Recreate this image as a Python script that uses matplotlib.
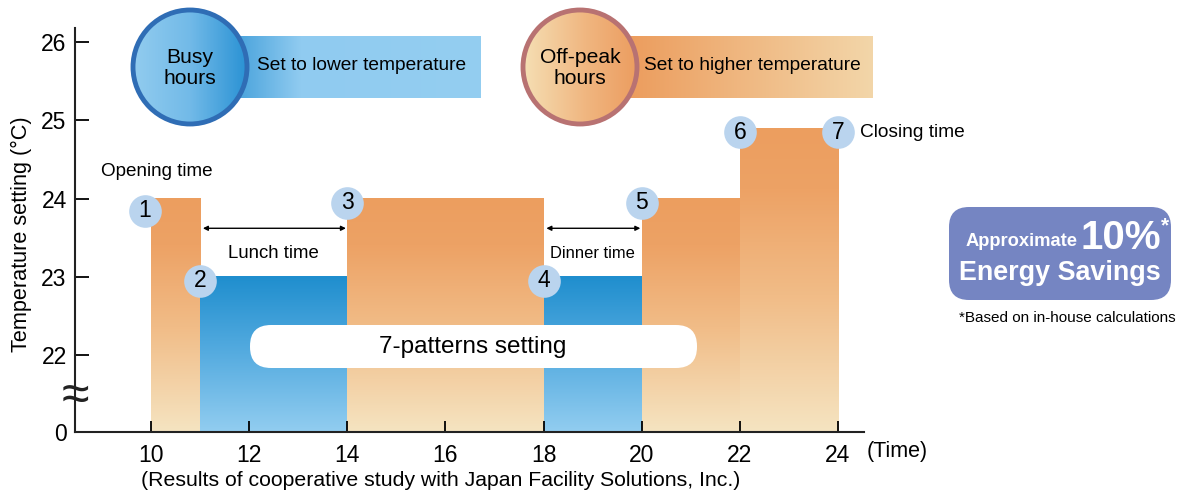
import matplotlib.pyplot as plt
import matplotlib.transforms as mtransforms
import numpy as np
from matplotlib.colors import LinearSegmentedColormap
from matplotlib.patches import Circle, FancyBboxPatch

plt.rcParams['font.family'] = ['Liberation Sans', 'DejaVu Sans']

# chart data
start_hours = [10, 11, 14, 18, 20, 22]
end_hours = [11, 14, 18, 20, 22, 24]
temps = [24, 23, 24, 23, 24, 24.9]
busy = [False, True, False, True, False, False]
marker_labels = ['1', '2', '3', '4', '5', '6', '7']
x_ticks = [10, 12, 14, 16, 18, 20, 22, 24]
y_ticks = [22, 23, 24, 25, 26]
y_floor = 21.016   # bottom of the broken axis, labelled "0"
arrow_level = 23.62
text_level = 23.30

W, H = 1187, 496
fig = plt.figure(figsize=(W / 100, H / 100), dpi=100)
ax = fig.add_axes([75 / W, 1 - 432 / H, (864 - 75) / W, (432 - 28) / H])

orange_cmap = LinearSegmentedColormap.from_list(
    'orange', [(0, '#F5E4C1'), (0.45, '#F1BC87'), (0.8, '#EDA265'), (1, '#EC9E5F')])
blue_cmap = LinearSegmentedColormap.from_list(
    'blue', [(0, '#92CDF0'), (0.5, '#56ACE0'), (1, '#1F8ECE')])
vgrad = np.linspace(0, 1, 256).reshape(-1, 1)

# bars with vertical gradients
for x0, x1, t, b in zip(start_hours, end_hours, temps, busy):
    ax.imshow(vgrad, cmap=blue_cmap if b else orange_cmap, origin='lower',
              extent=(x0, x1, y_floor, t), aspect='auto', zorder=0.5)

# numbered markers at the bar corners
marker_x = start_hours + [end_hours[-1]]
marker_y = temps + [temps[-1]]
offsets = {0: (-6, -12)}
for i, (mx, my, lab) in enumerate(zip(marker_x, marker_y, marker_labels)):
    dx, dy = offsets.get(i, (0, -4))
    tr = mtransforms.offset_copy(ax.transData, fig=fig, x=dx, y=dy, units='dots')
    ax.plot(mx, my, 'o', ms=23.5, mfc='#BAD4EE', mec='none', transform=tr,
            zorder=5, clip_on=False)
    ax.text(mx, my, lab, transform=tr, ha='center', va='center',
            fontsize=16.5, zorder=6)

# lunch / dinner arrows
for a, b2, lab, fs in [(end_hours[0], start_hours[2], 'Lunch time', 13.4),
                       (start_hours[3], end_hours[3], 'Dinner time', 11.9)]:
    ax.annotate('', xy=(b2, arrow_level), xytext=(a, arrow_level),
                arrowprops=dict(arrowstyle='<|-|>', mutation_scale=7, lw=1,
                                color='black', shrinkA=2, shrinkB=1))
    ax.text((a + b2) / 2, text_level, lab, ha='center', va='center', fontsize=fs)

ax.text(start_hours[0] + 0.12, 24.35, 'Opening time', ha='center', va='center', fontsize=13.6)
ax.text(end_hours[-1] + 0.45, temps[-1] - 0.05, 'Closing time', ha='left', va='center', fontsize=13.8)

ax.set_xlim(8.45, 24.53)
ax.set_ylim(y_floor, 26.18)
ax.set_xticks(x_ticks)
ax.set_xticklabels([str(t) for t in x_ticks])
ax.set_yticks([y_floor] + y_ticks)
ax.set_yticklabels(['0'] + [str(t) for t in y_ticks])
ax.tick_params(axis='x', direction='in', length=8, width=1.3, labelsize=16.5, pad=9)
ax.tick_params(axis='y', direction='in', length=10, width=1.3, labelsize=16.5, pad=6)
for s in ['top', 'right']:
    ax.spines[s].set_visible(False)
for s in ['left', 'bottom']:
    ax.spines[s].set_linewidth(1.5)
    ax.spines[s].set_color('#222222')
ax.set_ylabel('Temperature setting (°C)', fontsize=15.6)
ax.yaxis.set_label_coords(-0.054, 0.49)

# overlay in pixel coordinates for the legend and notes
ov = fig.add_axes([0, 0, 1, 1])
hgrad = np.linspace(0, 1, 256).reshape(1, -1)


def grad_rect(x0, x1, y0, y1, stops, z=2, clip=None):
    cm = LinearSegmentedColormap.from_list('g', stops)
    im = ov.imshow(hgrad, cmap=cm, extent=(x0, x1, y1, y0), aspect='auto', zorder=z)
    if clip is not None:
        im.set_clip_path(clip)
    return im


# busy hours
grad_rect(240, 481, 36, 98, [(0, '#4DA5DD'), (0.25, '#90CBF0'), (1, '#94CEF1')])
c1 = Circle((190, 67), 57, fc='none', ec='#2F6DB5', lw=3.5, zorder=4)
ov.add_patch(c1)
grad_rect(133, 247, 10, 124, [(0, '#92CCEF'), (0.5, '#72BAE8'), (1, '#2A92D4')], z=3, clip=c1)
ov.text(190, 68, 'Busy\nhours', ha='center', va='center', fontsize=15.2, linespacing=1.1, zorder=5)
ov.text(362, 65, 'Set to lower temperature', ha='center', va='center', fontsize=13.8, zorder=5)

# off-peak hours
grad_rect(630, 873, 36, 98, [(0, '#EC9D5E'), (1, '#F3D6A9')])
c2 = Circle((580, 67), 57, fc='none', ec='#B87272', lw=3.5, zorder=4)
ov.add_patch(c2)
grad_rect(523, 637, 10, 124, [(0, '#F5DFB4'), (0.55, '#F0B680'), (1, '#EC9D60')], z=3, clip=c2)
ov.text(580, 68, 'Off-peak\nhours', ha='center', va='center', fontsize=15.2, linespacing=1.1, zorder=5)
ov.text(752, 65, 'Set to higher temperature', ha='center', va='center', fontsize=13.8, zorder=5)

# 7-patterns banner
ov.add_patch(FancyBboxPatch((250, 325), 447, 43, boxstyle='round,pad=0,rounding_size=21',
                            fc='white', ec='none', zorder=3))
ov.text(473, 347, '7-patterns setting', ha='center', va='center', fontsize=17.5, zorder=4)

# energy savings box
ov.add_patch(FancyBboxPatch((949, 207), 222, 93, boxstyle='round,pad=0,rounding_size=20',
                            fc='#7585C2', ec='none', zorder=3))
ov.text(1022, 241, 'Approximate', ha='center', va='center', fontsize=13.2,
        fontweight='bold', color='white', zorder=4)
ov.text(1121, 238, '10%', ha='center', va='center', fontsize=29,
        fontweight='bold', color='white', zorder=4)
ov.text(1165, 226, '*', ha='center', va='center', fontsize=15,
        fontweight='bold', color='white', zorder=4)
ov.text(1060, 273, 'Energy Savings', ha='center', va='center', fontsize=19.4,
        fontweight='bold', color='white', zorder=4)
ov.text(1067, 318, '*Based on in-house calculations', ha='center', va='center', fontsize=11)

# axis break and captions
ov.text(75, 397, '≈', ha='center', va='center', fontsize=36, color='#222222')
ov.text(897, 452, '(Time)', ha='center', va='center', fontsize=15.5)
ov.text(441, 481, '(Results of cooperative study with Japan Facility Solutions, Inc.)',
        ha='center', va='center', fontsize=15.3)

ov.set_xlim(0, W)
ov.set_ylim(H, 0)
ov.axis('off')

fig.savefig('out.png', dpi=100)
